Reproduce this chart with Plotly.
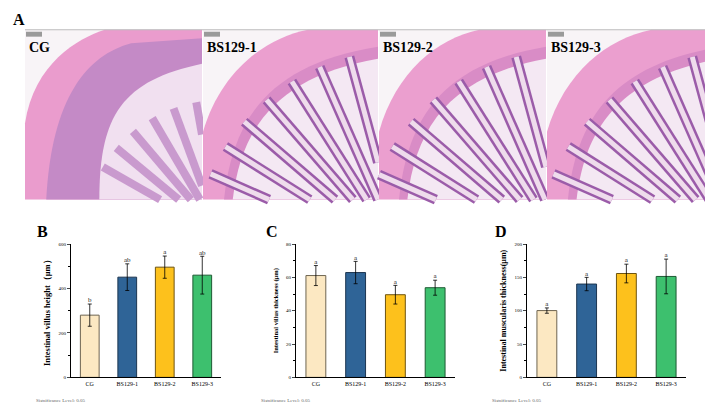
import math
import plotly.graph_objects as go

groups = ["CG", "BS129-1", "BS129-2", "BS129-3"]
colors = ["#fce8c2", "#2f6497", "#fdc11c", "#3dc06e"]
edges = ["#6e6450", "#1c3550", "#6e5410", "#1d5a33"]

villus_height = [280, 451, 496, 460]
villus_height_err = [50, 60, 50, 85]
villus_height_sig = ["b", "ab", "a", "ab"]

villus_thick = [61.1, 62.9, 49.6, 53.8]
villus_thick_err = [6.0, 6.7, 5.6, 4.5]
villus_thick_sig = ["a", "a", "a", "a"]

muscularis = [100.2, 140.0, 155.8, 151.4]
muscularis_err = [4, 10, 14, 26]
muscularis_sig = ["a", "a", "a", "a"]

W, H = 713, 402
SERIF = "Liberation Serif"

fig = go.Figure()

# chart panels: (values, errors, letters, y max, y step, title, title size, pixel x0, x1)
charts = [
    (villus_height, villus_height_err, villus_height_sig, 600, 200,
     "Intestinal villus height（μm）", 8.5, 63, 213),
    (villus_thick, villus_thick_err, villus_thick_sig, 80, 20,
     "Intestinal villus thickness (μm)", 6.5, 288, 447),
    (muscularis, muscularis_err, muscularis_sig, 200, 50,
     "Intestinal muscularis thickness(μm)", 8, 519, 678),
]
ytop, ybot = 237, 372

for i, (vals, errs, sig, ymax, step, title, tsize, px0, px1) in enumerate(charts):
    n = "" if i == 0 else str(i + 1)
    fig.add_trace(go.Bar(
        x=groups, y=vals, width=0.5,
        marker=dict(color=colors, line=dict(color=edges, width=1)),
        error_y=dict(type="data", array=errs, color="black", thickness=0.8, width=2),
        xaxis="x" + n, yaxis="y" + n, showlegend=False))
    fig.add_trace(go.Scatter(
        x=groups, y=[v + e for v, e in zip(vals, errs)], mode="text",
        text=sig, textposition="top center",
        textfont=dict(family=SERIF, size=7, color="#222"),
        xaxis="x" + n, yaxis="y" + n, showlegend=False, hoverinfo="skip"))
    fig.update_layout(**{
        "xaxis" + n: dict(domain=[px0 / W, px1 / W], anchor="y" + n,
                          range=[-0.5, 3.5], showline=True, linecolor="black",
                          linewidth=1, ticks="", showgrid=False,
                          tickfont=dict(family=SERIF, size=6, color="black")),
        "yaxis" + n: dict(domain=[1 - ybot / H, 1 - ytop / H], anchor="x" + n,
                          range=[0, ymax], dtick=step, showline=True,
                          linecolor="black", linewidth=1, ticks="outside",
                          ticklen=3, tickwidth=0.8, showgrid=False, zeroline=False,
                          minor=dict(ticks="outside", ticklen=2, dtick=step / 2,
                                     tickcolor="black"),
                          tickfont=dict(family=SERIF, size=5, color="black"),
                          title=dict(text="<b>" + title + "</b>", standoff=6,
                                     font=dict(family=SERIF, size=tsize, color="black"))),
    })
    fig.add_annotation(text="Significance Level: 0.05", xref="paper", yref="paper",
                       x=(px0 - 37) / W, y=1 - 395 / H, xanchor="left", yanchor="middle",
                       showarrow=False, font=dict(family=SERIF, size=5, color="#666"))

# histology image area drawn in pixel space on a hidden axis pair
fig.update_layout(
    xaxis5=dict(domain=[0, 1], range=[0, W], visible=False, fixedrange=True),
    yaxis5=dict(domain=[0, 1], range=[H, 0], visible=False, fixedrange=True,
                anchor="x5"),
)
fig.add_trace(go.Scatter(x=[0], y=[0], mode="markers", marker=dict(opacity=0),
                         xaxis="x5", yaxis="y5", showlegend=False, hoverinfo="skip"))

panels = [(17, 194), (195, 370), (371, 538), (539, 713)]
py0, py1 = 20, 192
shapes = []


def finger(x0, x1, cx, cy, theta, r_in, r_out):
    c, s = math.cos(theta), math.sin(theta)
    lo = max(r_in, (cx - x1) / c, (cy - py1) / s)
    hi = min(r_out, (cx - x0) / c, (cy - py0) / s)
    if hi <= lo:
        return None
    return (cx - lo * c, cy - lo * s, cx - hi * c, cy - hi * s)


for k, (x0, x1) in enumerate(panels):
    w = x1 - x0
    h = py1 - py0
    shapes.append(dict(type="rect", xref="x5", yref="y5", x0=x0, x1=x1, y0=py0, y1=py1,
                       fillcolor="#f8f4f7", line=dict(width=0), layer="below"))
    if k == 0:
        outer = (f"M{x0},{py1} L{x0},{py0 + h * 0.55} C{x0 + w * 0.05},{py0 + h * 0.2} "
                 f"{x0 + w * 0.3},{py0 + h * 0.05} {x0 + w * 0.45},{py0} L{x1},{py0} L{x1},{py1} Z")
        inner = (f"M{x0 + w * 0.12},{py1} C{x0 + w * 0.15},{py0 + h * 0.4} "
                 f"{x0 + w * 0.35},{py0 + h * 0.15} {x0 + w * 0.6},{py0 + h * 0.08} "
                 f"L{x1},{py0 + h * 0.05} L{x1},{py1} Z")
        core = (f"M{x0 + w * 0.42},{py1} C{x0 + w * 0.42},{py0 + h * 0.5} "
                f"{x0 + w * 0.55},{py0 + h * 0.3} {x1},{py0 + h * 0.2} L{x1},{py1} Z")
        fills = ["#ea9ccd", "#c48ac6", "#f1e0f0"]
    else:
        outer = (f"M{x0},{py1} L{x0},{py0 + h * 0.6} C{x0 + w * 0.1},{py0 + h * 0.25} "
                 f"{x0 + w * 0.35},{py0 + h * 0.05} {x0 + w * 0.6},{py0} L{x1},{py0} L{x1},{py1} Z")
        inner = (f"M{x0 + w * 0.12},{py1} C{x0 + w * 0.17},{py0 + h * 0.5} "
                 f"{x0 + w * 0.4},{py0 + h * 0.2} {x1},{py0 + h * 0.1} L{x1},{py1} Z")
        core = (f"M{x0 + w * 0.17},{py1} C{x0 + w * 0.22},{py0 + h * 0.55} "
                f"{x0 + w * 0.45},{py0 + h * 0.27} {x1},{py0 + h * 0.17} L{x1},{py1} Z")
        fills = ["#eb9fcf", "#d98cc6", "#f4e8f3"]
    for p, f in zip([outer, inner, core], fills):
        shapes.append(dict(type="path", xref="x5", yref="y5", path=p,
                           fillcolor=f, line=dict(width=0), layer="below"))
    # villus folds radiating from the lumen
    if k > 0:
        cx, cy = x1 + 0.15 * w, py1 + 0.35 * h
        for j in range(8):
            th = math.radians(24 + j * 8.5)
            seg = finger(x0, x1, cx, cy, th, 40, 212)
            if seg is None:
                continue
            ax, ay, bx, by = seg
            shapes.append(dict(type="line", xref="x5", yref="y5", x0=ax, y0=ay, x1=bx, y1=by,
                               line=dict(color="#9b5ca9", width=10), layer="below"))
            shapes.append(dict(type="line", xref="x5", yref="y5", x0=ax, y0=ay, x1=bx, y1=by,
                               line=dict(color="#efdcec", width=5), layer="below"))
    else:
        cx, cy = x1 + 0.1 * w, py1 + 0.2 * h
        for j in range(6):
            th = math.radians(30 + j * 10)
            seg = finger(x0, x1, cx, cy, th, 30, 135)
            if seg is None:
                continue
            ax, ay, bx, by = seg
            shapes.append(dict(type="line", xref="x5", yref="y5", x0=ax, y0=ay, x1=bx, y1=by,
                               line=dict(color="#c99ace", width=8), layer="below"))
    shapes.append(dict(type="rect", xref="x5", yref="y5", x0=x0 + 1, x1=x0 + 17,
                       y0=py0 + 2, y1=py0 + 7, fillcolor="#9a9a9a",
                       line=dict(width=0), layer="below"))
shapes.append(dict(type="line", xref="x5", yref="y5", x0=17, x1=W, y0=py0, y1=py0,
                   line=dict(color="#bdbdbd", width=1), layer="below"))
fig.update_layout(shapes=shapes)

img_labels = ["CG", "BS129-1", "BS129-2", "BS129-3"]
for (x0, x1), lab in zip(panels, img_labels):
    fig.add_annotation(text="<b>" + lab + "</b>", xref="x5", yref="y5", x=x0 + 2, y=38,
                       xanchor="left", yanchor="middle", showarrow=False,
                       font=dict(family=SERIF, size=14, color="black"))

for lab, px, py in [("A", 3, 10), ("B", 27, 224), ("C", 256, 224), ("D", 485, 224)]:
    fig.add_annotation(text="<b>" + lab + "</b>", xref="x5", yref="y5", x=px, y=py,
                       xanchor="left", yanchor="middle", showarrow=False,
                       font=dict(family=SERIF, size=16, color="black"))

fig.update_layout(width=W, height=H, margin=dict(l=0, r=0, t=0, b=0),
                  paper_bgcolor="white", plot_bgcolor="rgba(0,0,0,0)",
                  bargap=0.5)

fig.write_html("out.html")
